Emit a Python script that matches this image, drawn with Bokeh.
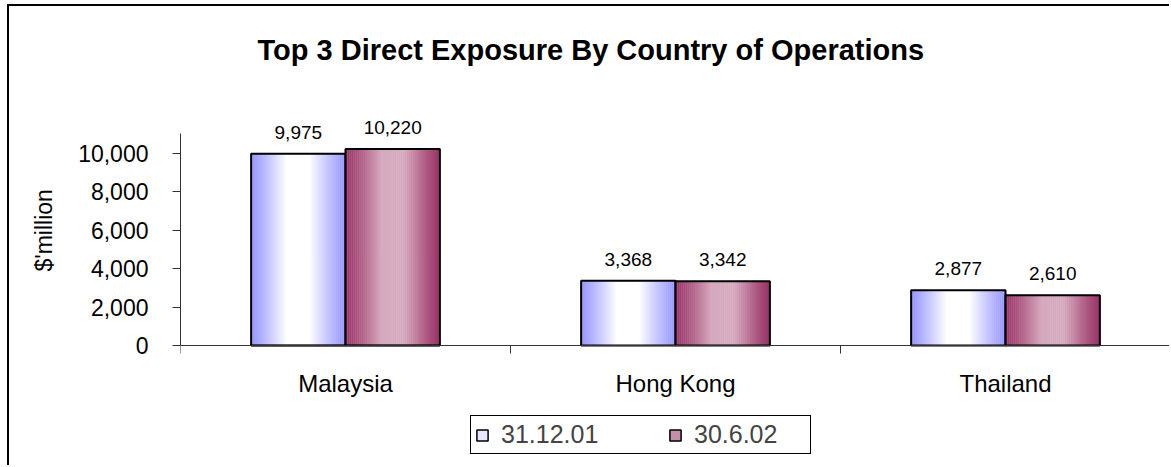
import numpy as np
from bokeh.plotting import figure
from bokeh.models import (Range1d, FixedTicker, LinearAxis, NumeralTickFormatter,
                          ColumnDataSource, LabelSet, Legend, LegendItem, Title)
from bokeh.core.properties import value
from bokeh.embed import file_html
from bokeh.resources import INLINE

# ---- data ----
countries = ["Malaysia", "Hong Kong", "Thailand"]
series_names = ["31.12.01", "30.6.02"]
dec01 = [9975, 3368, 2877]
jun02 = [10220, 3342, 2610]
y_ticks = [0, 2000, 4000, 6000, 8000, 10000]
title_text = "Top 3 Direct Exposure By Country of Operations"
y_title = "$'million"

FONT = "Liberation Sans"
W, H = 1162, 461

p = figure(width=W, height=H,
           x_range=Range1d(0, len(countries)), y_range=Range1d(-6292, 13936),
           output_backend="svg", toolbar_location=None,
           x_axis_location=None, y_axis_location=None,
           min_border_left=170, min_border_right=1,
           min_border_top=71, min_border_bottom=1)
p.outline_line_color = None
p.xgrid.grid_line_color = None
p.ygrid.grid_line_color = None
p.background_fill_color = "white"
p.border_fill_color = "white"
p.styles = {"margin-top": "4px", "margin-left": "7px",
            "margin-bottom": "-12px", "margin-right": "-16px",
            "border-left": "2px solid black", "border-top": "2px solid black"}

p.title = Title(text=title_text, align="left", offset=77, standoff=20,
                vertical_align="top",
                text_font=FONT, text_font_size="29px", text_font_style="bold",
                text_color="black")

AX = "#333333"
# y axis
yaxis = LinearAxis(ticker=FixedTicker(ticks=y_ticks), bounds=(0, 11000),
                   formatter=NumeralTickFormatter(format="0,0"),
                   major_label_text_font=FONT, major_label_text_font_size="23px",
                   major_label_text_color="black", major_label_standoff=24,
                   axis_line_color=AX, major_tick_line_color=AX,
                   major_tick_out=8, major_tick_in=0,
                   minor_tick_out=0, minor_tick_in=0)
p.add_layout(yaxis, "left")
# y axis title, placed alongside the value axis
p.add_layout(Title(text=y_title, align="left", offset=195, standoff=38,
                   text_font=FONT, text_font_size="23px", text_font_style="normal",
                   text_color="black"), "left")

# x axis at value 0: tick marks at category boundaries
bounds_ticks = list(range(len(countries) + 1))
xt = LinearAxis(ticker=FixedTicker(ticks=bounds_ticks), fixed_location=0,
                major_label_overrides={b: "" for b in bounds_ticks},
                major_label_text_font_size="1px", major_label_standoff=0,
                axis_line_color=AX, major_tick_line_color=AX,
                major_tick_out=8, major_tick_in=0,
                minor_tick_out=0, minor_tick_in=0)
p.add_layout(xt, "below")

# category names at category centres
centers = [i + 0.5 for i in range(len(countries))]
xl = LinearAxis(ticker=FixedTicker(ticks=centers), fixed_location=0,
                major_label_overrides={c: n for c, n in zip(centers, countries)},
                major_label_text_font=FONT, major_label_text_font_size="24px",
                major_label_text_color="black", major_label_standoff=24,
                axis_line_color=None, major_tick_line_color=None,
                minor_tick_line_color=None, major_tick_out=0, major_tick_in=0,
                minor_tick_out=0, minor_tick_in=0)
p.add_layout(xl, "below")

# ---- bars with horizontal gradient ----
bw = 0.286
N = 48
series_vals = [dec01, jun02]
edge_cols = [(150, 150, 255), (153, 51, 102)]
mid_cols = [(255, 255, 255), (214, 170, 190)]
offsets = [-bw / 2, bw / 2]


def grad(edge, mid, t):
    f = min(1.0, 1.3 * (1 - abs(2 * t - 1))) ** 1.1
    r, g, b = (int(round(e + (m - e) * f)) for e, m in zip(edge, mid))
    return "#%02x%02x%02x" % (r, g, b)


legend_items = []
for s, vals in enumerate(series_vals):
    xs, tops, cols = [], [], []
    for c, v in zip(centers, vals):
        left = c + offsets[s] - bw / 2
        for k in range(N):
            t = (k + 0.5) / N
            xs.append(left + t * bw)
            tops.append(v)
            cols.append(grad(edge_cols[s], mid_cols[s], t))
    src = ColumnDataSource(dict(x=xs, top=tops, color=cols))
    p.vbar(x="x", top="top", bottom=0, width=bw / N * 1.2, source=src,
           fill_color="color", line_color=None)
    bar_x = [c + offsets[s] for c in centers]
    osrc = ColumnDataSource(dict(x=bar_x, top=vals,
                                 label=[f"{v:,}" for v in vals]))
    p.vbar(x="x", top="top", bottom=0, width=bw, source=osrc,
           fill_color=None, line_color="black", line_width=2)
    p.add_layout(LabelSet(x="x", y="top", text="label", source=osrc,
                          text_align="center", text_baseline="bottom", y_offset=15,
                          text_font=value(FONT), text_font_size="19px",
                          text_color="black"))
    # legend swatch: zero-height bar at the base of the first bar of the series
    key_src = ColumnDataSource(dict(x=bar_x[:1], top=[0]))
    key = p.vbar(x="x", top="top", bottom=0, width=bw, source=key_src,
                 fill_color=grad(edge_cols[s], mid_cols[s], 0.3),
                 line_color="black", line_width=1.5)
    legend_items.append(LegendItem(label=series_names[s], renderers=[key]))

legend = Legend(items=legend_items, orientation="horizontal",
                location=(290, 12), border_line_color="black",
                border_line_width=1, border_line_alpha=1,
                background_fill_color="white",
                background_fill_alpha=1, padding=4, spacing=55, margin=0,
                glyph_width=14, glyph_height=14, label_standoff=12,
                label_width=112,
                label_text_font=FONT, label_text_font_size="25px")
p.add_layout(legend)

open("out.html", "w").write(file_html(p, INLINE))
